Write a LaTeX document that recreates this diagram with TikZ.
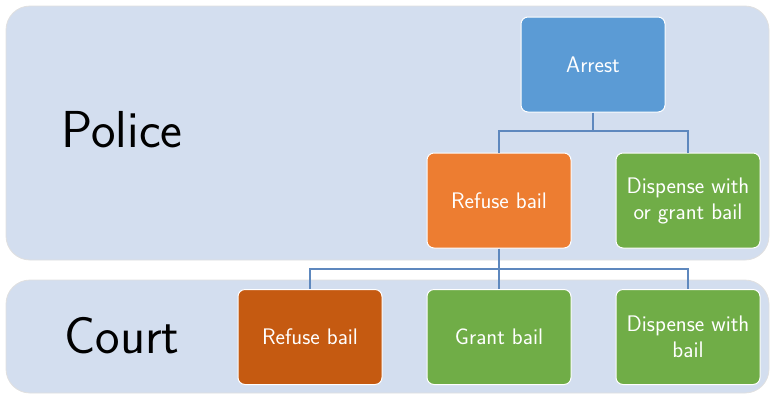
\documentclass[tikz,border=0pt]{standalone}
\usepackage{xcolor}
\usepackage{tikz}

\definecolor{bandfill}{HTML}{D3DEEF}
\definecolor{arrestblue}{HTML}{5B9BD5}
\definecolor{refuseorange}{HTML}{ED7D31}
\definecolor{darkorange}{HTML}{C55A11}
\definecolor{grantgreen}{HTML}{70AD47}
\definecolor{connblue}{HTML}{5E88BE}

\begin{document}
\begin{tikzpicture}[x=1pt,y=-1pt,
    band/.style={fill=bandfill,draw=black!12,line width=0.8pt,rounded corners=24pt},
    bandlabel/.style={font=\sffamily\fontsize{52}{56}\selectfont,text=black},
    box/.style={rectangle,rounded corners=7pt,draw=white,line width=1pt,
      minimum width=144pt,minimum height=95pt,inner sep=2pt,align=center,
      text=white,font=\sffamily\fontsize{22.5}{26}\selectfont},
    conn/.style={draw=connblue,line width=1.2pt}]
    \useasboundingbox (0,0) rectangle (770,394);

    % bands
    \path[band] (6,6) rectangle (769,260);
    \path[band] (6,280) rectangle (769,393);
    \node[bandlabel] (police) at (122,130) {Police};
    \node[bandlabel] (court) at (122,336) {Court};

    % boxes
    \node[box,fill=arrestblue] (arrest) at (593,64.5) {Arrest};
    \node[box,fill=refuseorange] (refuseP) at (499,200.5) {Refuse bail};
    \node[box,fill=grantgreen] (dispP) at (688,200.5) {Dispense with\\or grant bail};
    \node[box,fill=darkorange] (refuseC) at (310,337) {Refuse bail};
    \node[box,fill=grantgreen] (grantC) at (499,337) {Grant bail};
    \node[box,fill=grantgreen] (dispC) at (688,337) {Dispense with\\bail};

    % connectors
    \coordinate (forkP) at (593,131);
    \coordinate (forkC) at (499,269);
    \draw[conn] (arrest.south) -- (forkP);
    \draw[conn] (forkP) -| (refuseP.north);
    \draw[conn] (forkP) -| (dispP.north);
    \draw[conn] (refuseP.south) -- (grantC.north);
    \draw[conn] (forkC) -| (refuseC.north);
    \draw[conn] (forkC) -| (dispC.north);
  \end{tikzpicture}
\end{document}
